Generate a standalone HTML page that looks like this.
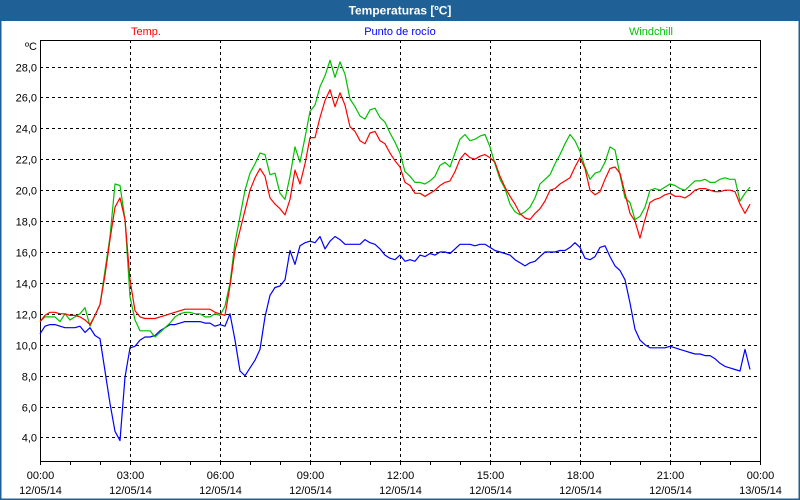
<!DOCTYPE html>
<html><head><meta charset="utf-8"><style>
html,body{margin:0;padding:0;background:#fff}
svg{display:block}
text{font-family:"Liberation Sans","DejaVu Sans",sans-serif}
</style></head><body>
<svg id="chart" width="800" height="500" viewBox="0 0 800 500">
<rect x="0" y="0" width="800" height="500" fill="#ffffff"/>
<rect x="0" y="0" width="800" height="20" fill="#1f6196"/>
<text x="400" y="14.5" text-anchor="middle" fill="#ffffff" font-size="12" font-weight="bold">Temperaturas [ºC]</text>
<rect x="0.5" y="20" width="799" height="479.5" fill="none" stroke="#1f6196" stroke-width="2"/>
<text x="146" y="35" text-anchor="middle" fill="#ff0000" font-size="11">Temp.</text>
<text x="400" y="35" text-anchor="middle" fill="#0000ff" font-size="11">Punto de rocío</text>
<text x="651" y="35" text-anchor="middle" fill="#00c000" font-size="11">Windchill</text>
<text x="37" y="50" text-anchor="end" fill="#000" font-size="11">ºC</text>
<g id="grid"></g>
<g id="axes"></g>
<g id="series"></g>
</svg>
<script>
const yTicks = [4,6,8,10,12,14,16,18,20,22,24,26,28];
const xTickHours = [0,3,6,9,12,15,18,21,24];
const xTickTimes = ["00:00","03:00","06:00","09:00","12:00","15:00","18:00","21:00","00:00"];
const xTickDates = ["12/05/14","12/05/14","12/05/14","12/05/14","12/05/14","12/05/14","12/05/14","12/05/14","13/05/14"];
const sampleMinutes = 10;
const tempValues = [11.5,11.9,12.1,12.1,12.0,12.0,11.9,11.9,11.8,11.6,11.3,11.9,12.6,14.5,16.8,18.9,19.5,18.1,14.2,12.2,11.8,11.7,11.7,11.7,11.8,11.9,12.0,12.1,12.2,12.3,12.3,12.3,12.3,12.3,12.3,12.1,
12.0,11.9,13.8,16.1,17.4,18.7,20.0,20.8,21.4,20.9,
19.5,19.1,18.8,18.4,19.4,21.3,20.4,21.7,23.4,23.4,
24.7,25.8,26.5,25.4,26.3,25.5,24.1,23.8,23.2,23.0,
23.7,23.8,23.2,23.0,22.4,21.9,21.5,20.5,20.3,19.8,
19.8,19.6,19.8,20.0,20.3,20.5,20.6,21.2,22.0,22.4,
22.1,22.0,22.2,22.3,22.1,21.8,20.9,20.2,19.6,19.1,
18.5,18.2,18.1,18.5,18.8,19.3,20.0,20.1,20.4,20.6,
20.8,21.5,22.1,21.4,20.0,19.7,19.9,20.7,21.4,21.5,
21.1,19.8,18.5,18.0,16.9,18.1,19.2,19.4,19.5,19.7,
19.8,19.6,19.6,19.5,19.7,20.0,20.1,20.1,20.0,19.9,
19.9,20.0,20.0,19.9,19.1,18.5,19.1];
const windchillValues = [11.5,11.8,11.8,11.8,11.5,12.0,11.6,11.8,12.0,12.4,11.2,11.9,12.6,14.8,17.0,20.4,20.3,18.1,13.1,11.6,10.9,10.9,10.9,10.5,10.8,11.1,11.4,11.8,12.0,12.1,12.1,12.0,12.0,11.8,11.8,12.0,
11.9,12.5,14.0,16.6,18.3,20.0,21.1,21.7,22.4,22.3,
21.0,21.1,19.8,19.4,20.9,22.8,21.8,23.4,25.1,25.5,
26.7,27.4,28.4,27.3,28.3,27.5,25.9,25.4,24.8,24.6,
25.2,25.3,24.7,24.4,23.7,23.1,22.4,21.2,20.9,20.5,
20.5,20.4,20.6,20.9,21.6,21.8,21.5,22.4,23.3,23.6,
23.2,23.3,23.5,23.6,22.8,21.7,20.7,20.1,19.1,18.6,
18.4,18.6,18.9,19.5,20.4,20.7,21.0,21.7,22.3,23.0,
23.6,23.2,22.5,21.5,20.7,21.1,21.2,21.8,22.8,22.6,
21.0,19.5,19.2,18.1,18.3,18.9,20.0,20.1,20.0,20.2,
20.4,20.3,20.1,20.0,20.3,20.6,20.6,20.7,20.5,20.5,
20.7,20.8,20.7,20.7,19.3,19.8,20.2];
const dewPointValues = [10.7,11.2,11.3,11.3,11.2,11.1,11.1,11.1,11.2,10.8,11.1,10.6,10.4,8.3,6.2,4.4,3.8,7.9,9.8,9.9,10.3,10.5,10.5,10.6,10.9,11.1,11.3,11.3,11.4,11.5,11.5,11.5,11.5,11.4,11.4,11.2,
11.3,11.2,12.0,10.3,8.3,8.0,8.5,9.0,9.7,11.8,
13.2,13.7,13.8,14.2,16.1,15.2,16.4,16.6,16.7,16.6,
17.0,16.2,16.7,17.0,16.8,16.5,16.5,16.5,16.5,16.8,
16.6,16.5,16.2,15.8,15.6,15.5,15.8,15.4,15.5,15.4,
15.8,15.7,15.9,15.8,16.0,16.0,15.9,16.2,16.5,16.5,
16.5,16.4,16.5,16.5,16.3,16.1,16.0,15.9,15.8,15.5,
15.3,15.1,15.3,15.4,15.7,16.0,16.0,16.0,16.1,16.1,
16.3,16.6,16.3,15.6,15.5,15.7,16.3,16.4,15.7,15.1,
14.8,14.2,12.7,11.0,10.3,10.0,9.8,9.8,9.8,9.8,
9.9,9.8,9.7,9.6,9.5,9.4,9.4,9.3,9.3,9.1,
8.8,8.6,8.5,8.4,8.3,9.7,8.4];

const PL=40, PR=760, PT=40, PB=461;
function xOfHour(h){ return PL + h*(PR-PL)/24; }
function xOfIndex(i){ return xOfHour(i*sampleMinutes/60); }
function yOf(v){ return 66.5 + (28 - v)*15.458; }
const NS="http://www.w3.org/2000/svg";
function mk(tag, attrs, parent){ const e=document.createElementNS(NS,tag); for(const k in attrs) e.setAttribute(k,attrs[k]); parent.appendChild(e); return e; }
const grid=document.getElementById('grid'), axes=document.getElementById('axes'), series=document.getElementById('series');

yTicks.forEach(v=>{
  const y=Math.round(yOf(v))+0.5;
  const l=mk('line',{x1:PL,x2:PR,y1:y,y2:y,stroke:'#000','stroke-width':1,'stroke-dasharray':'3,3','shape-rendering':'crispEdges'},grid);
  
  
  const t=mk('text',{x:37,y:y+4,'text-anchor':'end','font-size':11,fill:'#000'},axes);
  t.textContent=v.toFixed(1).replace('.',',');
  
  
});
xTickHours.forEach((h,i)=>{
  const x=Math.round(xOfHour(h))+0.5;
  if(h>0&&h<24){
    const l=mk('line',{x1:x,x2:x,y1:PT,y2:PB,stroke:'#000','stroke-width':1,'stroke-dasharray':'3,3','shape-rendering':'crispEdges'},grid);
    
    
  }
  const t1=mk('text',{x:x,y:479,'text-anchor':'middle','font-size':11,fill:'#000'},axes);
  t1.textContent=xTickTimes[i];
  
  
  const t2=mk('text',{x:x,y:494,'text-anchor':'middle','font-size':11,fill:'#000'},axes);
  t2.textContent=xTickDates[i];
  
  
});
for(let h=0;h<=24;h++){
  const x=Math.round(xOfHour(h))+0.5;
  const l=mk('line',{x1:x,x2:x,y1:PB,y2:PB+4,stroke:'#000','stroke-width':1,'shape-rendering':'crispEdges'},axes);
  
  
}
const frame=mk('rect',{x:PL+0.5,y:PT+0.5,width:PR-PL,height:PB-PT,fill:'none',stroke:'#000','stroke-width':1,'shape-rendering':'crispEdges'},axes);



function drawSeries(vals,color,name){
  const pts=vals.map((v,i)=>xOfIndex(i).toFixed(1)+','+yOf(v).toFixed(1)).join(' ');
  const p=mk('polyline',{points:pts,fill:'none',stroke:color,'stroke-width':1.2,'stroke-linejoin':'round'},series);
  
  
}
drawSeries(dewPointValues,'#0000ff','dew-point-line');
drawSeries(windchillValues,'#00c000','windchill-line');
drawSeries(tempValues,'#ff0000','temp-line');
</script>
</body></html>
